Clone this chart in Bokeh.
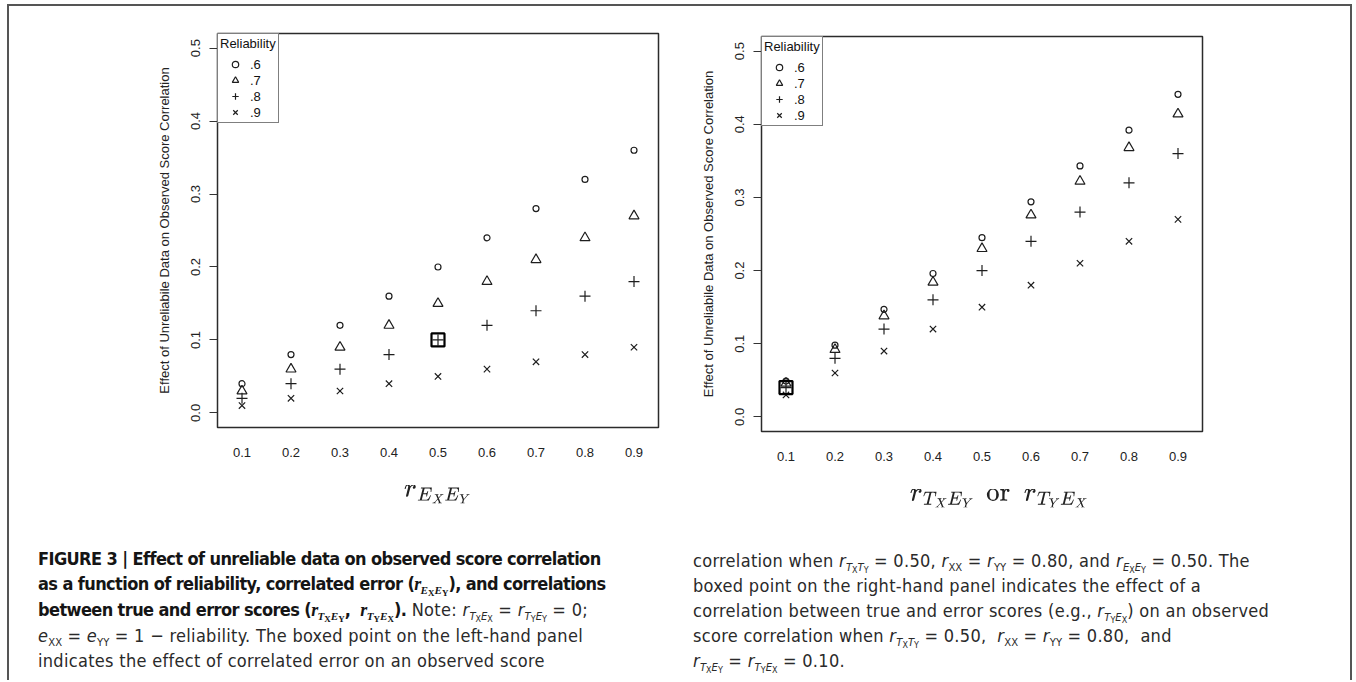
import math
from bokeh.plotting import figure
from bokeh.layouts import row, column
from bokeh.models import Range1d, FixedTicker, PrintfTickFormatter, Legend, LegendItem, Div
from bokeh.embed import file_html
from bokeh.resources import INLINE

# ---------------- data ----------------
x_vals = [0.1, 0.2, 0.3, 0.4, 0.5, 0.6, 0.7, 0.8, 0.9]
reliability_labels = [".6", ".7", ".8", ".9"]

left_rel_6 = [0.04, 0.08, 0.12, 0.16, 0.20, 0.24, 0.28, 0.32, 0.36]
left_rel_7 = [0.03, 0.06, 0.09, 0.12, 0.15, 0.18, 0.21, 0.24, 0.27]
left_rel_8 = [0.02, 0.04, 0.06, 0.08, 0.10, 0.12, 0.14, 0.16, 0.18]
left_rel_9 = [0.01, 0.02, 0.03, 0.04, 0.05, 0.06, 0.07, 0.08, 0.09]

right_rel_6 = [0.049, 0.098, 0.147, 0.196, 0.245, 0.294, 0.343, 0.392, 0.441]
right_rel_7 = [0.046, 0.092, 0.138, 0.184, 0.230, 0.276, 0.322, 0.368, 0.414]
right_rel_8 = [0.04, 0.08, 0.12, 0.16, 0.20, 0.24, 0.28, 0.32, 0.36]
right_rel_9 = [0.03, 0.06, 0.09, 0.12, 0.15, 0.18, 0.21, 0.24, 0.27]

left_box_x = [0.5]
left_box_y = [0.10]
right_box_x = [0.1]
right_box_y = [0.04]

x_ticks = [0.1, 0.2, 0.3, 0.4, 0.5, 0.6, 0.7, 0.8, 0.9]
y_ticks = [0.0, 0.1, 0.2, 0.3, 0.4, 0.5]

y_title = "Effect of Unreliabile Data on Observed Score Correlation"
left_x_title = r"$$r_{E_X E_Y}$$"
right_x_title = r"$$\quad\;r_{T_X E_Y}\ \,\mathrm{or}\ \ r_{T_Y E_X}$$"
legend_title = "Reliability"

# ---------------- style ----------------
INK = "#1e1e1e"
MARKERS = [("circle", 6), ("triangle", 10), ("cross", 11), ("x", 9)]
SANS = "Liberation Sans"


def make_panel(series, box_x, box_y, x_title, width, height, mb_left, mb_right, mb_top, mb_bottom, margin):
    p = figure(width=width, height=height, title=None, margin=margin,
               x_range=Range1d(0.05, 0.95), y_range=Range1d(-0.02, 0.52),
               output_backend="svg", toolbar_location=None,
               min_border_left=mb_left, min_border_right=mb_right,
               min_border_top=mb_top, min_border_bottom=mb_bottom)
    p.grid.visible = False
    p.outline_line_color = "#2b2b2b"
    p.outline_line_width = 1.5
    p.outline_line_alpha = 1.0
    p.background_fill_color = "white"
    p.border_fill_color = "white"

    renderers = []
    for ys, (m, s) in zip(series, MARKERS):
        r = p.scatter(x_vals, ys, marker=m, size=s, fill_color=None,
                      line_color=INK, line_width=1.2)
        renderers.append(r)
    p.scatter(box_x, box_y, marker="square", size=13, fill_color=None,
              line_color="black", line_width=2.2)

    xa = p.xaxis[0]
    xa.ticker = FixedTicker(ticks=x_ticks)
    xa.formatter = PrintfTickFormatter(format="%.1f")
    xa.axis_line_color = None
    xa.major_tick_line_color = None
    xa.minor_tick_line_color = None
    xa.major_tick_out = 0
    xa.major_tick_in = 0
    xa.minor_tick_out = 0
    xa.minor_tick_in = 0
    xa.major_label_standoff = 20
    xa.major_label_text_font = SANS
    xa.major_label_text_font_size = "13px"
    xa.major_label_text_color = "#222222"
    xa.axis_label = x_title
    xa.axis_label_text_font_size = "22px"
    xa.axis_label_text_color = "#222222"
    xa.axis_label_standoff = 25

    ya = p.yaxis[0]
    ya.ticker = FixedTicker(ticks=y_ticks)
    ya.formatter = PrintfTickFormatter(format="%.1f")
    ya.axis_line_color = None
    ya.major_tick_line_color = "#333333"
    ya.major_tick_line_width = 1
    ya.major_tick_out = 8
    ya.major_tick_in = 0
    ya.minor_tick_line_color = None
    ya.minor_tick_out = 0
    ya.minor_tick_in = 0
    ya.major_label_orientation = "parallel"
    ya.major_label_standoff = 9
    ya.major_label_text_font = SANS
    ya.major_label_text_font_size = "13px"
    ya.major_label_text_color = "#222222"
    ya.axis_label = y_title
    ya.axis_label_text_font = SANS
    ya.axis_label_text_font_size = "13px"
    ya.axis_label_text_font_style = "normal"
    ya.axis_label_text_color = "#222222"
    ya.axis_label_standoff = 17

    items = [LegendItem(label=lab, renderers=[r]) for lab, r in zip(reliability_labels, renderers)]
    legend = Legend(items=items, title=legend_title, location="top_left",
                    margin=0, padding=2, spacing=0,
                    glyph_width=30, glyph_height=16, label_height=16,
                    label_standoff=0, label_text_font=SANS, label_text_font_size="13px",
                    label_text_color="#111111",
                    title_text_font=SANS, title_text_font_size="13px",
                    title_text_font_style="normal", title_text_color="#111111",
                    title_standoff=5,
                    border_line_color="black", border_line_width=1,
                    background_fill_color="white", background_fill_alpha=1.0)
    p.add_layout(legend)
    return p


left = make_panel([left_rel_6, left_rel_7, left_rel_8, left_rel_9], left_box_x, left_box_y,
                  left_x_title, 672, 534, 208, 23, 27, 113, (0, 0, 0, 0))
right = make_panel([right_rel_6, right_rel_7, right_rel_8, right_rel_9], right_box_x, right_box_y,
                   right_x_title, 669, 535, 80, 148, 27, 113, (3, 0, 0, 0))

# ---------------- caption ----------------
def rs(a, b, serif=False):
    fam = "font-family:'Liberation Serif',serif;" if serif else ""
    def part(s):
        return "<i>%s</i><span class='s2'>%s</span>" % (s[0], s[1])
    return ("<span style=\"%s\"><i>r</i><span class='s1'>%s%s</span></span>"
            % (fam, part(a), part(b)))

def rxx(s):
    return "<i>r</i><span class='s1'>%s</span>" % s

cap_left_lines = [
    "<b>FIGURE 3 | Effect of unreliable data on observed score correlation</b>",
    "<b>as a function of reliability, correlated error (</b><b>" + rs("EX", "EY", True) + "</b><b>), and correlations</b>",
    "<b>between true and error scores (</b><b>" + rs("TX", "EY", True) + ",&nbsp; " + rs("TY", "EX", True)
    + "</b><b>).</b> Note: " + rs("TX", "EX") + " = " + rs("TY", "EY") + " = 0;",
    "<i>e</i><span class='s1'>XX</span> = <i>e</i><span class='s1'>YY</span> = 1 &minus; reliability. The boxed point on the left-hand panel",
    "indicates the effect of correlated error on an observed score",
]
cap_right_lines = [
    "correlation when " + rs("TX", "TY") + " = 0.50, " + rxx("XX") + " = " + rxx("YY") + " = 0.80, and "
    + rs("EX", "EY") + " = 0.50. The",
    "boxed point on the right-hand panel indicates the effect of a",
    "correlation between true and error scores (e.g., " + rs("TY", "EX") + ") on an observed",
    "score correlation when " + rs("TX", "TY") + " = 0.50,&nbsp; " + rxx("XX") + " = " + rxx("YY") + " = 0.80,&nbsp; and",
    rs("TX", "EY") + " = " + rs("TY", "EX") + " = 0.10.",
]

css = ("<style>.s1{font-size:62%;vertical-align:-0.35em;line-height:0;font-style:normal;letter-spacing:0}"
       ".s2{font-size:80%;vertical-align:-0.2em;line-height:0}"
       ".cap b{letter-spacing:-0.6px;color:#151515}</style>")
block = ("<div style=\"position:absolute;left:%dpx;top:%dpx;white-space:nowrap;\">%s</div>")
html = (css + "<div class='cap' style=\"position:relative;width:1341px;height:136px;"
        "font-family:'Liberation Sans Narrow','DejaVu Sans Condensed','Liberation Sans',sans-serif;"
        "font-size:18px;line-height:25px;color:#2a2a2a;letter-spacing:0.3px;\">"
        + block % (29, 2, "<br>".join(cap_left_lines))
        + block % (684, 4, "<br>".join(cap_right_lines))
        + "</div>")
caption = Div(text=html, width=1341, height=136, margin=(0, 0, 0, 0))

layout = column(row(left, right), caption, margin=(4, 0, 0, 7),
                styles={"border-top": "2px solid #555", "border-left": "2px solid #555",
                        "border-right": "2px solid #555"})

open("out.html", "w").write(file_html(layout, INLINE))
